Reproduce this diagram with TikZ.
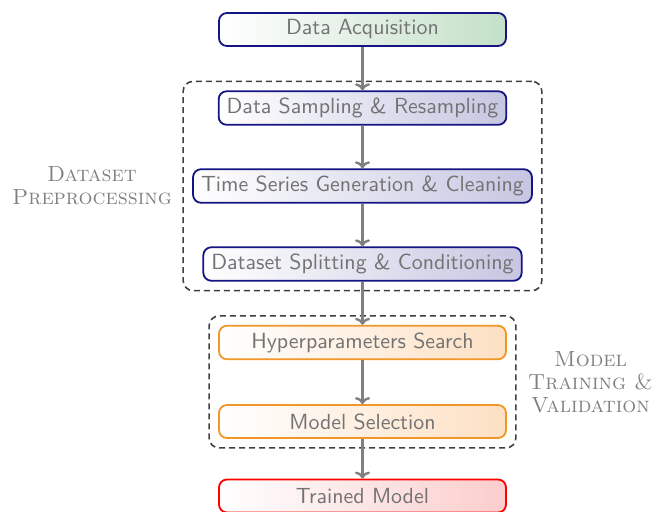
\documentclass[tikz,border=0pt]{standalone}
\usetikzlibrary{arrows.meta,fit,positioning}
\definecolor{stageblue}{RGB}{20,20,130}
\definecolor{stageorange}{RGB}{242,150,40}
\definecolor{fillblue}{RGB}{198,198,226}
\definecolor{fillgreen}{RGB}{196,224,200}
\definecolor{fillorange}{RGB}{253,224,195}
\definecolor{fillred}{RGB}{252,205,205}
\begin{document}
\begin{tikzpicture}[x=0.5pt,y=-0.5pt,
  stage/.style={draw, rounded corners=4pt, line width=0.9pt,
    minimum width=143.5pt, minimum height=16.5pt, inner xsep=4pt,
    font=\fontsize{10.95}{13}\sffamily, text=black!55, left color=white},
  bluestage/.style={stage, draw=stageblue, right color=fillblue},
  greenstage/.style={stage, draw=stageblue, right color=fillgreen},
  orangestage/.style={stage, draw=stageorange, right color=fillorange},
  redstage/.style={stage, draw=red, right color=fillred},
  flow/.style={draw=gray, line width=1.2pt, -{To[length=3.5pt,width=7.5pt]}},
  group/.style={draw=black!75, dashed, dash pattern=on 3pt off 2pt,
    line width=0.8pt, rounded corners=5pt, inner sep=4.5pt},
  grouplabel/.style={align=center, text=black!50,
    font=\fontsize{10.95}{11.5}\scshape}]
  \useasboundingbox (0,0) rectangle (665,511);

  \node[greenstage]  (acq)   at (362.5,29.5) {Data Acquisition};
  \node[bluestage]   (samp)  at (362.5,108)  {Data Sampling \& Resampling};
  \node[bluestage]   (ts)    at (362.5,186)  {Time Series Generation \& Cleaning};
  \node[bluestage]   (split) at (362.5,264)  {Dataset Splitting \& Conditioning};
  \node[orangestage] (hyper) at (362.5,342.5) {Hyperparameters Search};
  \node[orangestage] (sel)   at (362.5,421.5) {Model Selection};
  \node[redstage]    (out)   at (362.5,496)  {Trained Model};

  \node[group, fit=(samp)(ts)(split)] (prep) {};
  \node[group, fit=(hyper)(sel)] (train) {};

  \node[grouplabel, left=1.7pt of prep] {Dataset\\Preprocessing};
  \node[grouplabel, right=2.2pt of train] {Model\\Training \&\\Validation};

  \draw[flow] (acq) -- (samp);
  \draw[flow] (samp) -- (ts);
  \draw[flow] (ts) -- (split);
  \draw[flow] (split) -- (hyper);
  \draw[flow] (hyper) -- (sel);
  \draw[flow] (sel) -- (out);
\end{tikzpicture}
\end{document}
